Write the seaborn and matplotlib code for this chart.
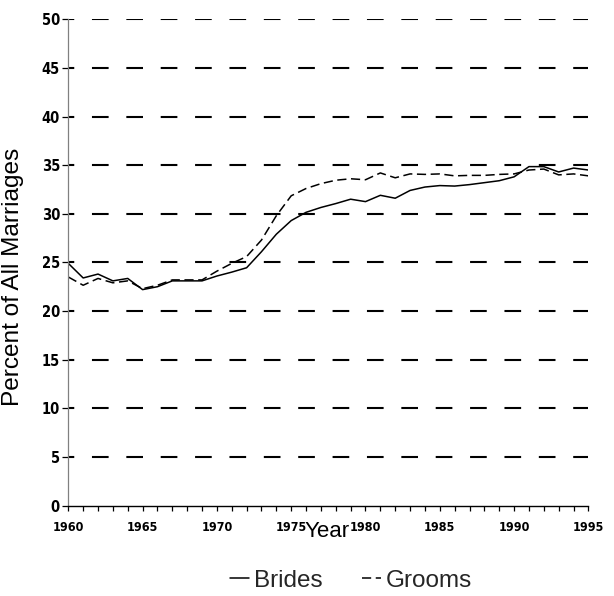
import matplotlib
matplotlib.use("Agg")
import matplotlib.pyplot as plt
import seaborn as sns
import pandas as pd
from matplotlib.ticker import MultipleLocator

years = list(range(1960, 1996))
brides = [24.9, 23.4, 23.8, 23.1, 23.35, 22.2, 22.5, 23.1, 23.1, 23.1,
          23.6, 24.0, 24.45, 26.1, 27.9, 29.3, 30.15, 30.65, 31.05, 31.5,
          31.25, 31.9, 31.6, 32.4, 32.75, 32.9, 32.85, 33.0, 33.2, 33.4,
          33.8, 34.85, 34.85, 34.3, 34.7, 34.5]
grooms = [23.5, 22.65, 23.35, 22.9, 23.1, 22.3, 22.65, 23.2, 23.2, 23.2,
          24.1, 24.9, 25.6, 27.3, 29.8, 31.85, 32.6, 33.1, 33.45, 33.6,
          33.5, 34.2, 33.7, 34.1, 34.05, 34.1, 33.9, 33.95, 33.95, 34.05,
          34.1, 34.5, 34.6, 34.0, 34.1, 33.9]
series_names = ["Brides", "Grooms"]
y_ticks = list(range(0, 51, 5))
x_tick_labels = list(range(1960, 1996, 5))

df = pd.DataFrame({
    "Year": years * 2,
    "Percent": brides + grooms,
    "Series": [series_names[0]] * len(years) + [series_names[1]] * len(years),
})

sns.set_style("ticks")
plt.rcParams["font.family"] = ["Liberation Sans", "DejaVu Sans"]

fig = plt.figure(figsize=(6.14, 5.96), dpi=100)
ax = fig.add_axes([68.3 / 614, 1 - 505.5 / 596, 520.1 / 614, 486.2 / 596])

sns.lineplot(data=df, x="Year", y="Percent", style="Series",
             dashes={"Brides": "", "Grooms": (6, 3)}, color="black",
             linewidth=1.1, legend=False, ax=ax)

ax.set_xlim(1960, 1995)
ax.set_ylim(0, 50)
ax.set_yticks(y_ticks)
ax.set_xticks(x_tick_labels)
ax.xaxis.set_minor_locator(MultipleLocator(1))

ax.yaxis.grid(True, color="black", linestyle=(5, (8, 8.5)), linewidth=1.5)
ax.xaxis.grid(False)
ax.set_axisbelow(True)
ax.yaxis.get_gridlines()[0].set_visible(False)

for s in ["top", "right"]:
    ax.spines[s].set_visible(False)
ax.spines["left"].set_color("#808080")
ax.spines["left"].set_linewidth(0.9)
ax.spines["bottom"].set_color("black")
ax.spines["bottom"].set_linewidth(1.0)

ax.tick_params(axis="y", direction="out", length=4, width=0.9, pad=2,
               colors="black", labelsize=10.5)
ax.tick_params(axis="x", which="major", direction="out", length=3.5, width=0.9,
               pad=8, colors="black", labelsize=9)
ax.tick_params(axis="x", which="minor", direction="out", length=3.5, width=0.9,
               colors="black")
for lab in ax.get_xticklabels() + ax.get_yticklabels():
    lab.set_family(["DejaVu Sans"])
    lab.set_fontstretch("condensed")
    lab.set_fontweight("bold")

ax.set_ylabel("Percent of All Marriages", fontsize=17.6, color="black")
ax.yaxis.set_label_coords(-0.085, 0.47)
ax.set_xlabel("Year", fontsize=16, color="black")
ax.xaxis.set_label_coords(0.4985, -0.032)

handles = ax.lines[:2]
leg = fig.legend(handles, series_names, loc="center", ncol=2, frameon=False,
                 bbox_to_anchor=(0.572, 0.026), fontsize=17.5, handlelength=0.8,
                 handletextpad=0.2, columnspacing=1.6)

fig.savefig("out.png", dpi=100)
